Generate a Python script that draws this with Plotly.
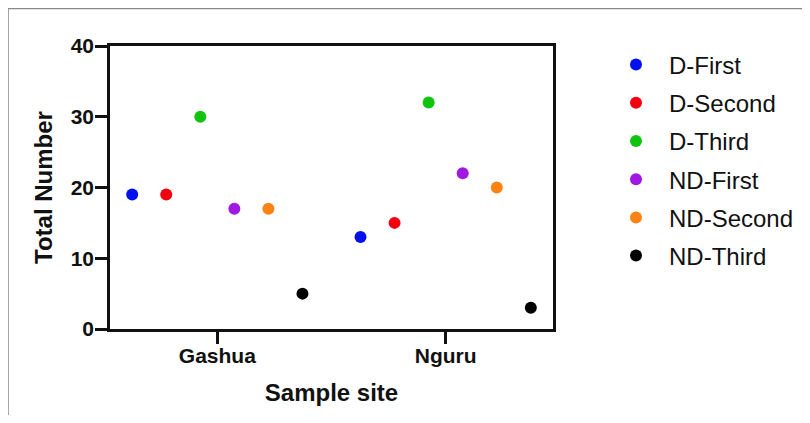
import plotly.graph_objects as go

sites = ["Gashua", "Nguru"]
series_names = ["D-First", "D-Second", "D-Third", "ND-First", "ND-Second", "ND-Third"]
values = {
    "D-First": [19, 13],
    "D-Second": [19, 15],
    "D-Third": [30, 32],
    "ND-First": [17, 22],
    "ND-Second": [17, 20],
    "ND-Third": [5, 3],
}
colors = {
    "D-First": "#0010EE",
    "D-Second": "#F20010",
    "D-Third": "#10C410",
    "ND-First": "#A018E2",
    "ND-Second": "#FC8214",
    "ND-Third": "#000000",
}
y_ticks = [0, 10, 20, 30, 40]

FONT = "Arial, Liberation Sans, Helvetica, sans-serif"

# page body adds an 8px margin; figure is sized so the whole page fits the window
W, H = 794, 407
ML, MR, MT, MB = 102, 249, 38, 86
PW, PH = W - ML - MR, H - MT - MB

fig = go.Figure()
for name in series_names:
    fig.add_trace(go.Scatter(
        x=sites, y=values[name], name=name, mode="markers",
        marker=dict(color=colors[name], size=12),
        offsetgroup=name, orientation="v", legendgroup=name,
    ))

fx = lambda px: (px - ML) / PW
fy = lambda py: (H - MB - py) / PH

fig.update_layout(
    width=W, height=H,
    margin=dict(l=ML, r=MR, t=MT, b=MB, autoexpand=False),
    plot_bgcolor="white", paper_bgcolor="white",
    scattermode="group", scattergap=0.105,
    font=dict(family=FONT, color="#111111"),
    showlegend=True,
    legend=dict(
        x=fx(595), xanchor="left", y=fy(34.5), yanchor="top",
        font=dict(size=24, family=FONT, color="#111111"),
        tracegroupgap=4, itemwidth=56, bgcolor="rgba(0,0,0,0)",
        maxheight=360,
    ),
    xaxis=dict(
        type="category", range=[-0.47, 1.47],
        showline=True, linecolor="#111111", linewidth=2.5, mirror=True,
        ticks="outside", ticklen=12, tickwidth=2.5, tickcolor="#111111",
        tickfont=dict(size=21, family=FONT, weight="bold"),
        ticklabelstandoff=-6,
        showgrid=False, zeroline=False,
        title=dict(text="<b>Sample site</b>", font=dict(size=24, family=FONT), standoff=19),
    ),
    yaxis=dict(
        range=[0, 40], tickvals=y_ticks,
        showline=True, linecolor="#111111", linewidth=2.5, mirror=True,
        ticks="outside", ticklen=12, tickwidth=2.5, tickcolor="#111111",
        tickfont=dict(size=21, family=FONT, weight="bold"),
        ticklabelstandoff=-3,
        showgrid=False, zeroline=False,
        title=dict(text="<b>Total Number</b>", font=dict(size=24, family=FONT), standoff=12),
    ),
    shapes=[
        dict(type="line", xref="paper", yref="paper", x0=fx(0.0), x1=fx(W), y0=fy(0.5), y1=fy(0.5),
             line=dict(color="#888888", width=1.5)),
        dict(type="line", xref="paper", yref="paper", x0=fx(0.0), x1=fx(0.0), y0=fy(0.5), y1=fy(H),
             line=dict(color="#888888", width=1.5)),
    ],
)

fig.write_html("out.html")
